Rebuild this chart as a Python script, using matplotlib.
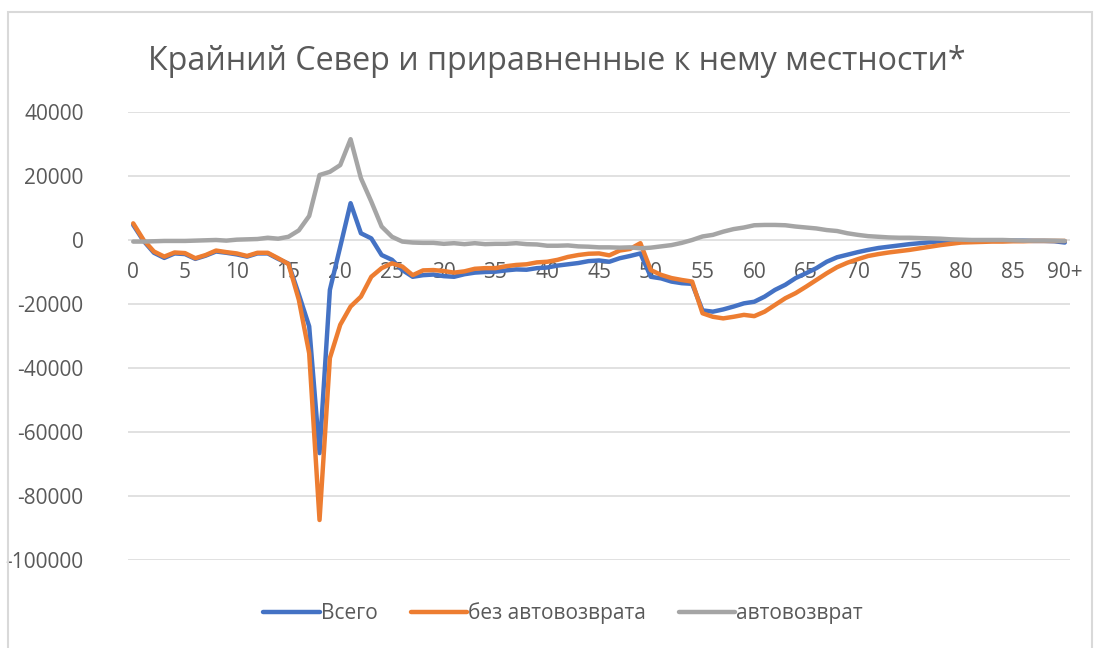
import numpy as np
import matplotlib
matplotlib.use("Agg")
import matplotlib.pyplot as plt
from matplotlib.patches import Rectangle

# categories: ages 0..89 and "90+"
ages = [str(i) for i in range(90)] + ["90+"]

vsego = [4700, -300, -4000, -5600, -4200, -4400, -5900, -4900, -3600, -4000,
         -4500, -5200, -4200, -4200, -5900, -7400, -17000, -27000, -66600, -15600,
         -2100, 11500, 2100, 500, -4700, -6200, -9400, -11500, -11000, -10800,
         -11300, -11500, -10700, -10200, -10000, -9900, -9500, -9200, -9300, -8800,
         -8600, -8000, -7600, -7200, -6600, -6400, -6800, -5700, -5000, -4200,
         -11500, -12000, -13000, -13500, -13700, -22000, -22400, -21700, -20800, -19800,
         -19300, -17700, -15600, -14000, -11900, -10400, -8800, -6800, -5400, -4600,
         -3800, -3100, -2500, -2100, -1700, -1300, -1000, -700, -400, -300,
         -200, -200, -200, -200, -200, -200, -200, -300, -300, -400,
         -800]

bez_avto = [5200, 0, -3600, -5200, -3900, -4100, -5700, -4700, -3300, -3800,
            -4200, -5000, -4000, -4000, -5700, -7500, -18700, -35400, -87500, -36900,
            -26500, -20800, -17700, -11500, -8800, -7300, -8300, -11000, -9500, -9400,
            -9700, -10200, -9800, -9000, -8800, -8800, -8200, -7800, -7600, -7000,
            -6800, -6200, -5300, -4700, -4300, -4200, -4800, -3300, -2800, -1000,
            -9400, -10900, -11900, -12500, -13000, -22900, -24000, -24500, -24000, -23400,
            -23800, -22400, -20300, -18200, -16600, -14600, -12500, -10400, -8500, -7100,
            -6000, -5000, -4400, -3900, -3500, -3100, -2600, -2100, -1600, -1200,
            -800, -700, -600, -500, -500, -400, -400, -300, -300, -300,
            -300]

avto = [-500, -500, -400, -300, -300, -300, -200, -100, 0, -200,
        100, 200, 300, 700, 400, 1000, 3000, 7500, 20300, 21300,
        23400, 31500, 19300, 12000, 4200, 1000, -500, -800, -900, -900,
        -1200, -1000, -1300, -1000, -1300, -1200, -1200, -1000, -1300, -1400,
        -1800, -1800, -1700, -2000, -2100, -2300, -2300, -2400, -2300, -2600,
        -2400, -2000, -1600, -900, 0, 1100, 1600, 2600, 3400, 3900,
        4600, 4700, 4700, 4600, 4200, 3900, 3600, 3100, 2800, 2100,
        1600, 1200, 1000, 800, 700, 700, 600, 500, 400, 200,
        100, 0, 0, 0, 0, -100, -200, -200, -200, -200,
        -300]

series_names = ["Всего", "без автовозврата", "автовозврат"]
colors = ["#4472C4", "#ED7D31", "#A5A5A5"]

plt.rcParams["font.family"] = ["Open Sans", "DejaVu Sans"]
plt.rcParams["axes.unicode_minus"] = False
text_color = "#595959"

fig = plt.figure(figsize=(11, 6.48), dpi=100)
ax = fig.add_axes([0.1164, 0.1358, 0.8563, 0.6914])

x = np.arange(len(ages))
for vals, name, c in zip([vsego, bez_avto, avto], series_names, colors):
    ax.plot(x, vals, color=c, lw=3.2, label=name, solid_capstyle="round", solid_joinstyle="round")

ax.set_xlim(-0.5, len(ages) - 0.5)
ax.set_ylim(-100000, 40000)
ax.set_yticks(np.arange(-100000, 40001, 20000))
ax.yaxis.grid(True, color="#D9D9D9", lw=1.1)
ax.set_axisbelow(True)

# category axis crosses at zero, labels every 5th age
ax.spines["bottom"].set_position(("data", 0))
for s in ["top", "right", "left", "bottom"]:
    ax.spines[s].set_visible(False)
ax.set_xticks(x[::5])
ax.set_xticklabels(ages[::5])
ax.tick_params(axis="x", length=0, pad=16, labelsize=15, labelcolor=text_color)
ax.tick_params(axis="y", length=0, pad=32, labelsize=15, labelcolor=text_color)

fig.text(0.506, 0.905, "Крайний Север и приравненные к нему местности*",
         ha="center", va="center", fontsize=23.2, color=text_color)

leg = ax.legend(loc="center", bbox_to_anchor=(0.512, 0.054), bbox_transform=fig.transFigure,
                ncol=3, frameon=False, fontsize=15, handlelength=2.7, handletextpad=0.05,
                columnspacing=1.6, labelcolor=text_color)

# outer chart border
fig.patches.append(Rectangle((8 / 1100, -0.05), 1084 / 1100, 1.05 - 12 / 648,
                             transform=fig.transFigure, fill=False,
                             edgecolor="#D9D9D9", lw=1.5))

fig.savefig("out.png", dpi=100)
